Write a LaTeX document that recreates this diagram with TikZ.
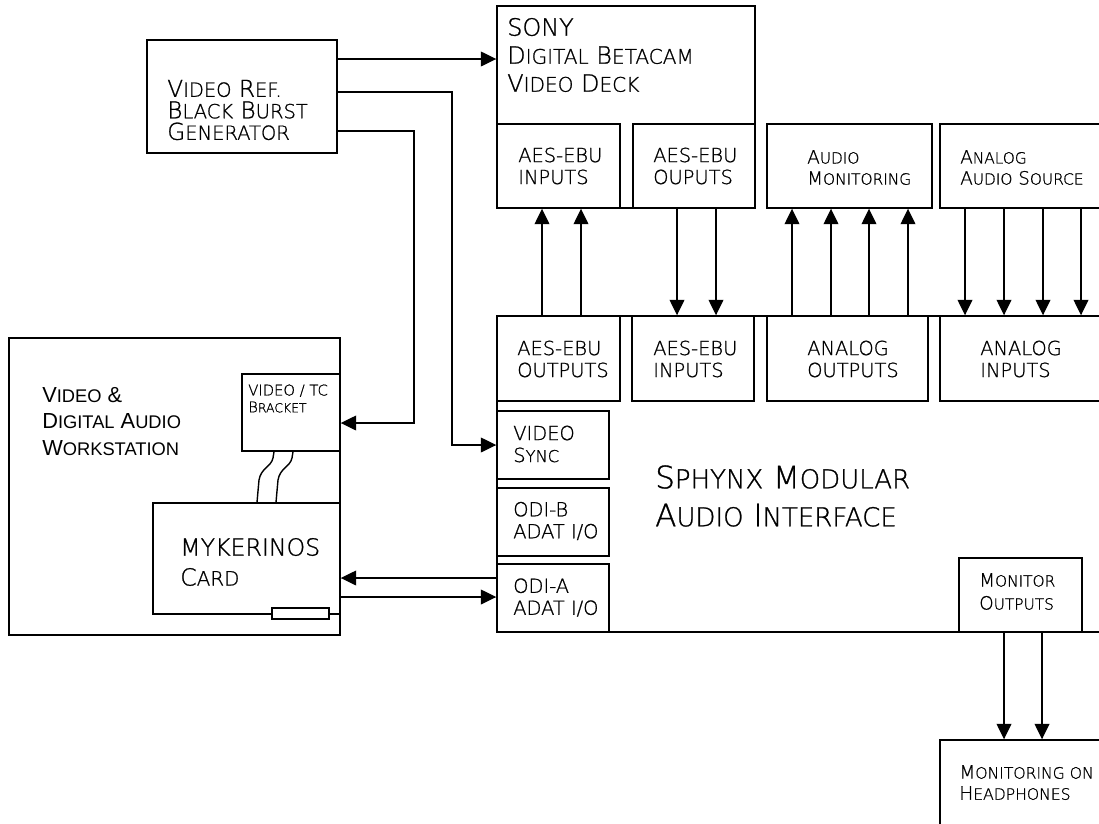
\documentclass[tikz,border=0pt]{standalone}
\usepackage{fontspec}
\usepackage{graphicx}
\usetikzlibrary{arrows.meta,fit}
\newfontfamily\cadfont[FakeBold=1]{DejaVu Sans ExtraLight}
\newfontfamily\arialfont{Liberation Sans}
\makeatletter
\newcommand\lc[1]{{\fontsize{\fpeval{0.84*\f@size}}{\f@baselineskip}\selectfont #1}}
\makeatother
\tikzset{
  box/.style={draw, line width=1pt, inner sep=0pt},
  arr/.style={line width=1pt, -{Triangle[length=11pt,width=10.5pt]}},
  plain/.style={line width=1pt},
  lbl/.style={anchor=west, align=left, inner sep=0pt},
  fA/.style={font=\cadfont\fontsize{13.8}{15.6}\selectfont},
}
\begin{document}
\begin{tikzpicture}[x=0.025cm,y=-0.025cm]
\useasboundingbox (0,0) rectangle (1099,823);
\clip (0,0) rectangle (1099,823);
% boxes
\node[box, fit={(147,40) (337,153)}] (vref) {};
\node[box, fit={(497,6) (755,208)}] (sony) {};
\node[box, fit={(497,124) (620,208)}] (dAESi) {};
\node[box, fit={(633,124) (755,208)}] (dAESo) {};
\node[box, fit={(767,124) (932,208)}] (amon) {};
\node[box, fit={(940,124) (1120,208)}] (asrc) {};
\node[box, fit={(497,316) (1120,632)}] (sph) {};
\node[box, fit={(497,316) (620,401)}] (sAESo) {};
\node[box, fit={(632,316) (754,401)}] (sAESi) {};
\node[box, fit={(767,316) (928,401)}] (sANo) {};
\node[box, fit={(940,316) (1120,401)}] (sANi) {};
\node[box, fit={(497,411) (609,479)}] (vsync) {};
\node[box, fit={(497,488) (609,556)}] (odib) {};
\node[box, fit={(497,564) (609,632)}] (odia) {};
\node[box, fit={(959,558) (1082,632)}] (mon) {};
\node[box, fit={(940,740) (1120,840)}] (hp) {};
\node[box, fit={(9,338) (340,635)}] (ws) {};
\node[box, fit={(242,374) (340,451)}] (brk) {};
\node[box, fit={(153,503) (340,614)}] (myk) {};
\node[box, fit={(272,608) (329,619)}, fill=white] (slot) {};
% labels
\node[lbl, font=\cadfont\fontsize{16.5}{15.3}\selectfont] (tvref) at (167,110) {V\lc{IDEO} R\lc{EF.}\\B\lc{LACK} B\lc{URST}\\G\lc{ENERATOR}};
\node[lbl, font=\cadfont\fontsize{17}{19.9}\selectfont] (tsony) at (507,55) {SONY\\D\lc{IGITAL} B\lc{ETACAM}\\V\lc{IDEO} D\lc{ECK}};
\node[lbl, fA] (tdi) at (518,166) {AES-EBU\\INPUTS};
\node[lbl, fA] (tdo) at (653,166) {AES-EBU\\OUPUTS};
\node[lbl, font=\cadfont\fontsize{13}{15}\selectfont] (tam) at (807,167.5) {A\lc{UDIO}\\M\lc{ONITORING}};
\node[lbl, font=\cadfont\fontsize{13}{15}\selectfont] (tas) at (960,167.5) {A\lc{NALOG}\\A\lc{UDIO} S\lc{OURCE}};
\node[lbl, fA] (tso) at (517,359) {AES-EBU\\OUTPUTS};
\node[lbl, fA] (tsi) at (653,359) {AES-EBU\\INPUTS};
\node[lbl, fA] (tano) at (807,359) {ANALOG\\OUTPUTS};
\node[lbl, fA] (tani) at (980,359) {ANALOG\\INPUTS};
\node[lbl, fA] (tvs) at (513,444) {VIDEO\\S\lc{YNC}};
\node[lbl, fA] (tob) at (513,521) {ODI-B\\ADAT I/O};
\node[lbl, fA] (toa) at (513,597.5) {ODI-A\\ADAT I/O};
\node[lbl, font=\cadfont\fontsize{22}{27}\selectfont] (tsph) at (655,496) {S\lc{PHYNX} M\lc{ODULAR}\\A\lc{UDIO} I\lc{NTERFACE}};
\node[lbl, font=\cadfont\fontsize{13}{16.4}\selectfont] (tmon) at (979,591.5) {M\lc{ONITOR}\\O\lc{UTPUTS}};
\node[lbl, font=\cadfont\fontsize{13.2}{15}\selectfont] (thp) at (959,782.5) {M\lc{ONITORING ON}\\H\lc{EADPHONES}};
\node[lbl, font=\arialfont\fontsize{15.5}{18.8}\selectfont] (tws) at (42,421.5) {V\lc{IDEO} \&\\D\lc{IGITAL} A\lc{UDIO}\\W\lc{ORKSTATION}};
\node[lbl, font=\cadfont\fontsize{10.5}{12}\selectfont] (tbrk) at (248,398.5) {VIDEO / TC\\B\lc{RACKET}};
\node[lbl, font=\cadfont\fontsize{16.8}{21.3}\selectfont] (tmyk) at (180,562) {MYKERINOS\\C\lc{ARD}};
% helper coordinates
\coordinate (h59) at (0,59);
\coordinate (c1) at (452,92);
\coordinate (c2) at (414,131);
\coordinate (c2b) at (414,423);
\coordinate (h578) at (0,578);
\coordinate (h597) at (0,597);
% video reference connections
\draw[arr] (vref.east |- h59) -- (sony.west |- h59);
\draw[arr] (vref.east |- c1) -- (c1) |- (vsync.west);
\draw[arr] (vref.east |- c2) -- (c2) -- (c2b) -- (brk.east |- c2b);
% ODI-A <-> Mykerinos
\draw[arr] (odia.west |- h578) -- (myk.east |- h578);
\draw[arr] (myk.east |- h597) -- (odia.west |- h597);
% vertical connections
\foreach \x in {542,581} {
  \coordinate (vx) at (\x,0);
  \draw[arr] (sAESo.north -| vx) -- (dAESi.south -| vx);
}
\foreach \x in {677,716} {
  \coordinate (vx) at (\x,0);
  \draw[arr] (dAESo.south -| vx) -- (sAESi.north -| vx);
}
\foreach \x in {792,831,869,908} {
  \coordinate (vx) at (\x,0);
  \draw[arr] (sANo.north -| vx) -- (amon.south -| vx);
}
\foreach \x in {965,1004,1043,1081} {
  \coordinate (vx) at (\x,0);
  \draw[arr] (asrc.south -| vx) -- (sANi.north -| vx);
}
\foreach \x in {1004,1042} {
  \coordinate (vx) at (\x,0);
  \draw[arr] (mon.south -| vx) -- (hp.north -| vx);
}
% cables bracket -> card
\coordinate (k1a) at (274,451);
\coordinate (k1b) at (257,503);
\coordinate (k2a) at (293,451);
\coordinate (k2b) at (276,503);
\draw[plain] (brk.south -| k1a) -- (273,458) .. controls (271,467) and (261,468) .. (259,480) -- (myk.north -| k1b);
\draw[plain] (brk.south -| k2a) -- (292,458) .. controls (290,467) and (280,468) .. (278,480) -- (myk.north -| k2b);
\end{tikzpicture}
\end{document}
